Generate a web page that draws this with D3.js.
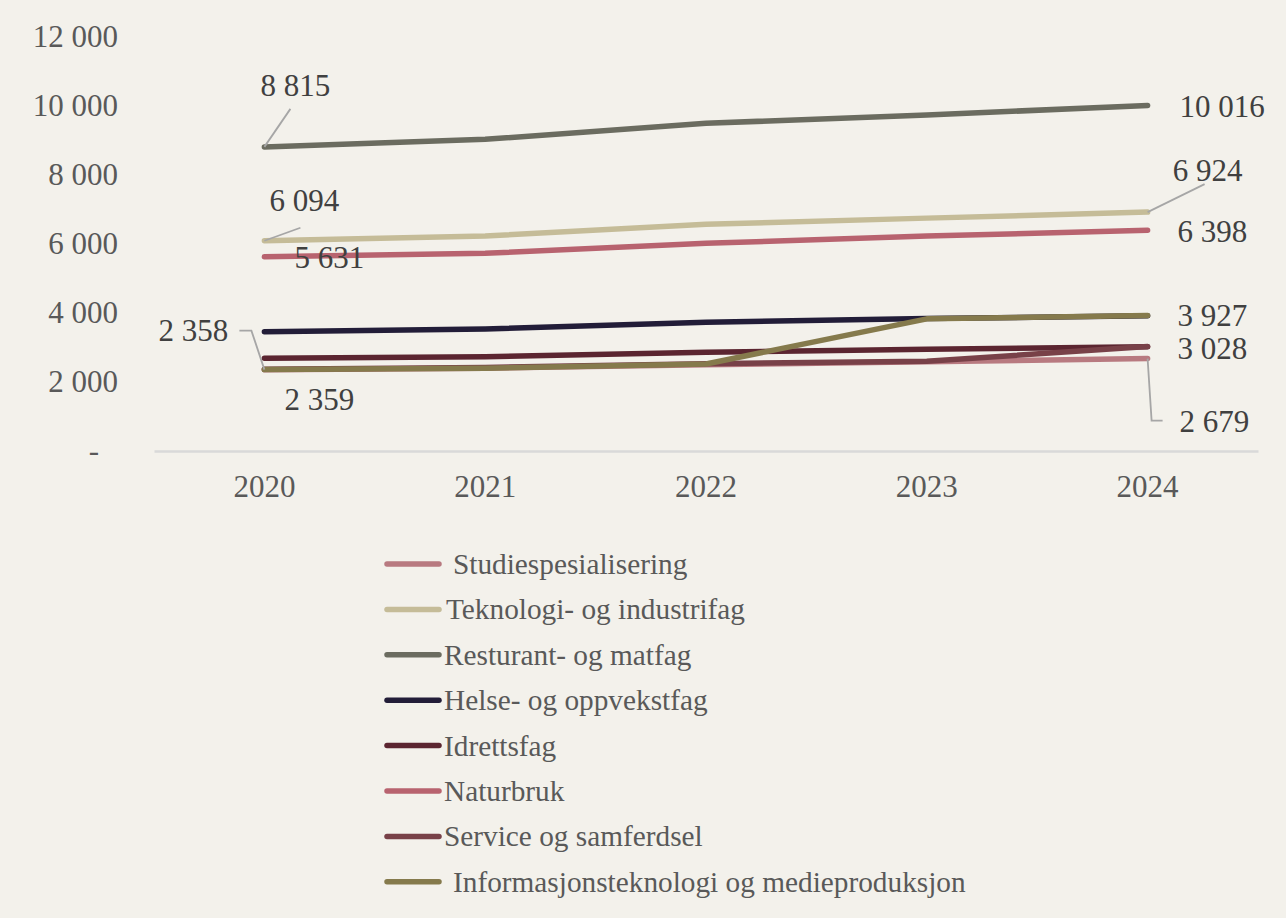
<!DOCTYPE html>
<html>
<head>
<meta charset="utf-8">
<script src="https://cdn.jsdelivr.net/npm/d3@7"></script>
<style>
  html, body { margin: 0; padding: 0; background: #f3f1eb; }
  svg { display: block; }
  text { font-family: "Liberation Serif", "Times New Roman", serif; }
</style>
</head>
<body>
<svg id="chart" width="1286" height="918"></svg>
<script>
// ---------- DATA ----------
const years = ["2020", "2021", "2022", "2023", "2024"];
const yTicks = [0, 2000, 4000, 6000, 8000, 10000, 12000];

const seriesNames = [
  "Studiespesialisering",
  "Teknologi- og industrifag",
  "Resturant- og matfag",
  "Helse- og oppvekstfag",
  "Idrettsfag",
  "Naturbruk",
  "Service og samferdsel",
  "Informasjonsteknologi og medieproduksjon"
];

const studiespesialisering = [2358, 2400, 2500, 2590, 2679];
const teknologi            = [6094, 6232, 6571, 6750, 6924];
const resturant            = [8815, 9035, 9498, 9740, 10016];
const helse                = [3458, 3536, 3730, 3840, 3920];
const idrettsfag           = [2687, 2733, 2861, 2948, 3020];
const naturbruk            = [5631, 5730, 6020, 6230, 6398];
const service              = [2370, 2420, 2530, 2600, 3028];
const informasjon          = [2359, 2397, 2522, 3830, 3927];

const seriesValues = [studiespesialisering, teknologi, resturant, helse, idrettsfag, naturbruk, service, informasjon];

// data labels: [series index, year index]
const labelPoints = [
  [2, 0], [2, 4],
  [1, 0], [1, 4],
  [5, 0], [5, 4],
  [0, 0], [0, 4],
  [7, 0], [7, 4],
  [6, 4]
];

// ---------- STYLE / LAYOUT ----------
const colors = ["#b87a80", "#c5bc98", "#6b6c60", "#221d38", "#5b2530", "#b8636f", "#784148", "#857a4c"];
const bg = "#f3f1eb";

// label layout offsets relative to point (label centre), and optional leader path offsets
const labelLayout = [
  { dx: 31,  dy: -61, anchor: "middle", leader: [[0,0],[26,-38]] },           // 8 815
  { dx: 32,  dy: 1,   anchor: "start" },                                        // 10 016
  { dx: 40,  dy: -40, anchor: "middle", leader: [[0,0],[36,-13]] },            // 6 094
  { dx: 60,  dy: -42, anchor: "middle", leader: [[0,0],[57,-28]] },            // 6 924
  { dx: 65,  dy: 1,   anchor: "middle" },                                       // 5 631
  { dx: 30,  dy: 1,   anchor: "start" },                                        // 6 398
  { dx: -71, dy: -39, anchor: "middle", leader: [[0,0],[-13,-39],[-25,-39]] }, // 2 358
  { dx: 32,  dy: 63,  anchor: "start", leader: [[0,0],[4,62],[15,62]] },       // 2 679
  { dx: 55,  dy: 30,  anchor: "middle" },                                       // 2 359
  { dx: 30,  dy: 0,   anchor: "start" },                                        // 3 927
  { dx: 30,  dy: 2,   anchor: "start" }                                         // 3 028
];

const svg = d3.select("#chart");
svg.append("rect").attr("width", 1286).attr("height", 918).attr("fill", bg);

const locale = d3.formatLocale({ decimal: ",", thousands: " ", grouping: [3], currency: ["", ""] });
const fmt = locale.format(",d");

const x = d3.scaleBand().domain(years).range([154, 1258]).padding(0);
const xc = d => x(d) + x.bandwidth() / 2;
const y = d3.scaleLinear().domain([0, 12000]).range([451, 37]);

// x axis
const xAxis = svg.append("g")
  .attr("transform", "translate(0,451)")
  .call(d3.axisBottom(x).tickSize(0).tickSizeOuter(0).tickPadding(24));
xAxis.select(".domain").attr("stroke", "#d9d9d9").attr("stroke-width", 2.5);
xAxis.selectAll("text")
  .attr("font-size", 31).attr("fill", "#595959")
  .style("font-family", "Liberation Serif");

// y axis
const yAxis = svg.append("g")
  .attr("transform", "translate(118,0)")
  .call(d3.axisLeft(y).tickValues(yTicks).tickSize(0).tickPadding(0)
    .tickFormat(d => d === 0 ? "-" : fmt(d)));
yAxis.select(".domain").remove();
yAxis.selectAll("text")
  .attr("font-size", 31).attr("fill", "#595959")
  .style("font-family", "Liberation Serif")
  .attr("dx", d => d === 0 ? -19 : 0);

// lines
const line = d3.line().x((d, i) => xc(years[i])).y(d => y(d));
const linesG = svg.append("g");
seriesValues.forEach((vals, s) => {
  linesG.append("path")
    .datum(vals)
    .attr("d", line)
    .attr("fill", "none")
    .attr("stroke", colors[s])
    .attr("stroke-width", 5.5)
    .attr("stroke-linecap", "round")
    .attr("stroke-linejoin", "round");
});

// data labels
const labG = svg.append("g");
labelPoints.forEach(([s, i], k) => {
  const px = xc(years[i]), py = y(seriesValues[s][i]);
  const L = labelLayout[k];
  if (L.leader) {
    labG.append("path")
      .attr("d", d3.line()(L.leader.map(p => [px + p[0], py + p[1]])))
      .attr("fill", "none").attr("stroke", "#a6a6a6").attr("stroke-width", 1.8);
  }
  labG.append("text")
    .attr("x", px + L.dx).attr("y", py + L.dy)
    .attr("dy", "0.34em")
    .attr("text-anchor", L.anchor)
    .attr("font-size", 31).attr("fill", "#404040")
    .text(fmt(seriesValues[s][i]));
});

// legend
const leg = svg.append("g");
const legendLead = [9, 2, 0, 0, 0, 0, 0, 9];
seriesNames.forEach((name, s) => {
  const ly = 564 + s * 45.4;
  leg.append("line")
    .attr("x1", 387).attr("x2", 439).attr("y1", ly).attr("y2", ly)
    .attr("stroke", colors[s]).attr("stroke-width", 5.5).attr("stroke-linecap", "round");
  leg.append("text")
    .attr("x", 444 + legendLead[s]).attr("y", ly + 10)
    .attr("font-size", 29.3).attr("fill", "#595959")
    .text(name);
});
</script>
</body>
</html>
